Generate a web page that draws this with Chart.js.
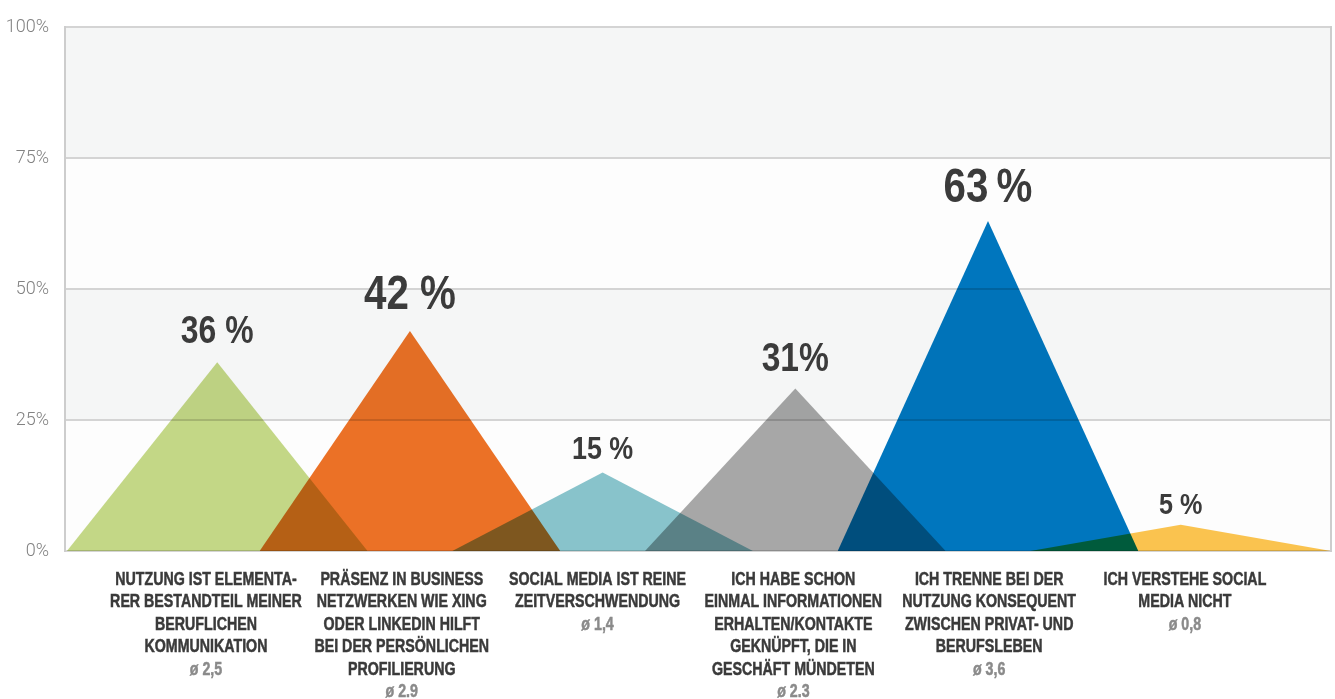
<!DOCTYPE html>
<html lang="de">
<head>
<meta charset="utf-8">
<title>Social Media im Beruf</title>
<script src="https://cdn.jsdelivr.net/npm/chart.js@4.4.1/dist/chart.umd.min.js"></script>
<style>
  html, body { margin: 0; padding: 0; background: #fff; }
  canvas { display: block; }
</style>
</head>
<body>
<canvas id="chartDreiecke" width="1335" height="699"></canvas>
<script>
// Daten
const kategorien = [
    ['NUTZUNG IST ELEMENTA-', 'RER BESTANDTEIL MEINER', 'BERUFLICHEN', 'KOMMUNIKATION'],
    ['PRÄSENZ IN BUSINESS', 'NETZWERKEN WIE XING', 'ODER LINKEDIN HILFT', 'BEI DER PERSÖNLICHEN', 'PROFILIERUNG'],
    ['SOCIAL MEDIA IST REINE', 'ZEITVERSCHWENDUNG'],
    ['ICH HABE SCHON', 'EINMAL INFORMATIONEN', 'ERHALTEN/KONTAKTE', 'GEKNÜPFT, DIE IN', 'GESCHÄFT MÜNDETEN'],
    ['ICH TRENNE BEI DER', 'NUTZUNG KONSEQUENT', 'ZWISCHEN PRIVAT- UND', 'BERUFSLEBEN'],
    ['ICH VERSTEHE SOCIAL', 'MEDIA NICHT']
];
const durchschnitt = ['ø 2,5', 'ø 2.9', 'ø 1,4', 'ø 2.3', 'ø 3,6', 'ø 0,8'];
const anteile = [36, 42, 15, 31, 63, 5];
const anteilTexte = ['36 %', '42 %', '15 %', '31%', '63\u2009%', '5 %'];
const yTicks = [0, 25, 50, 75, 100];

// Gestaltung
const farben = ['#c5d987', '#ed7226', '#89c5cd', '#a8a8a8', '#0077c0', '#fcc54f'];
const wertSchrift = [38, 48, 32, 40, 48, 30];   // Schriftgröße der Prozentwerte
const wertAbstand = [19, 22, 13, 18, 19, 11];   // Abstand Grundlinie zur Spitze
const SCHRIFT = "'Liberation Sans', Arial, sans-serif";
const STAUCHUNG = 0.79;      // Helvetica Condensed nachahmen
const HALBE_BREITE = 0.78;   // halbe Dreiecksbasis in Kategorie-Einheiten
const ZEILE = 22.5;          // Zeilenhöhe der Achsenbeschriftung

// Text horizontal gestaucht zeichnen, etwas kräftiger
function schmalerText(ctx, text, x, y, faktor, kontur) {
    ctx.save();
    ctx.translate(x, y);
    ctx.scale(faktor, 1);
    if (kontur) {
        ctx.lineWidth = kontur;
        ctx.strokeStyle = ctx.fillStyle;
        ctx.strokeText(text, 0, 0);
    }
    ctx.fillText(text, 0, 0);
    ctx.restore();
}

// Hintergrundstreifen und rechter Rahmen
const hintergrund = {
    id: 'hintergrund',
    beforeDraw(chart) {
        const { ctx, chartArea, scales } = chart;
        ctx.save();
        for (let k = 0; k < yTicks.length - 1; k++) {
            const yOben = scales.y.getPixelForValue(yTicks[k + 1]);
            const yUnten = scales.y.getPixelForValue(yTicks[k]);
            ctx.fillStyle = k % 2 ? '#f5f6f6' : '#fdfdfd';
            ctx.fillRect(chartArea.left, yOben, chartArea.right - chartArea.left, yUnten - yOben);
        }
        ctx.restore();
    },
    afterDraw(chart) {
        const { ctx, chartArea } = chart;
        ctx.save();
        ctx.strokeStyle = '#cdcdcd';
        ctx.lineWidth = 2;
        ctx.beginPath();
        ctx.moveTo(chartArea.right, chartArea.top - 1);
        ctx.lineTo(chartArea.right, chartArea.bottom + 1);
        ctx.stroke();
        ctx.restore();
    }
};

// Überlappungen wie im Original multiplizieren, danach Prozentwerte
const mischen = {
    id: 'mischen',
    beforeDatasetsDraw(chart) {
        chart.ctx.save();
        chart.ctx.globalCompositeOperation = 'multiply';
    },
    afterDatasetsDraw(chart) {
        chart.ctx.restore();
        const { ctx, scales } = chart;
        ctx.save();
        ctx.fillStyle = '#3b3b3b';
        ctx.textAlign = 'center';
        ctx.textBaseline = 'alphabetic';
        anteile.forEach((wert, i) => {
            ctx.font = `bold ${wertSchrift[i]}px ${SCHRIFT}`;
            const x = scales.x.getPixelForValue(i);
            const y = scales.y.getPixelForValue(wert);
            schmalerText(ctx, anteilTexte[i], x, y - wertAbstand[i], 0.84);
        });
        ctx.restore();
    }
};

// Kategorien und Durchschnittswerte unter der Grafik
const beschriftung = {
    id: 'beschriftung',
    afterDraw(chart) {
        const { ctx, scales } = chart;
        const achse = scales.x2;
        ctx.save();
        ctx.font = `bold 18px ${SCHRIFT}`;
        ctx.textAlign = 'center';
        ctx.textBaseline = 'middle';
        kategorien.forEach((zeilen, i) => {
            const x = achse.getPixelForValue(i);
            const y0 = achse.top + 29;
            ctx.fillStyle = '#3a3a3a';
            zeilen.forEach((zeile, z) => schmalerText(ctx, zeile, x, y0 + z * ZEILE, STAUCHUNG, 0.5));
            ctx.fillStyle = '#8a8a8a';
            schmalerText(ctx, durchschnitt[i], x, y0 + zeilen.length * ZEILE, STAUCHUNG, 0.5);
        });
        ctx.restore();
    }
};

new Chart(document.getElementById('chartDreiecke'), {
    type: 'line',
    data: {
        datasets: anteile.map((wert, i) => ({
            label: kategorien[i].join(' '),
            data: [
                { x: i - HALBE_BREITE, y: 0 },
                { x: i, y: wert },
                { x: i + HALBE_BREITE, y: 0 }
            ],
            backgroundColor: farben[i],
            borderWidth: 0,
            pointRadius: 0,
            tension: 0,
            fill: 'origin'
        }))
    },
    options: {
        responsive: false,
        animation: false,
        layout: { padding: { top: 27, right: 4, left: 0, bottom: 0 } },
        plugins: {
            legend: { display: false },
            tooltip: { enabled: false }
        },
        scales: {
            x: { type: 'linear', min: -0.79, max: 5.78, display: false },
            x2: {
                type: 'linear',
                position: 'bottom',
                min: -0.72,
                max: 5.746,
                afterBuildTicks: s => { s.ticks = kategorien.map((_, i) => ({ value: i })); },
                afterFit: s => { s.height = 148; },
                grid: { display: false, drawTicks: false },
                border: { display: false },
                ticks: { display: false }
            },
            y: {
                min: 0,
                max: 100,
                afterBuildTicks: s => { s.ticks = yTicks.map(v => ({ value: v })); },
                afterFit: s => { s.width = 65; },
                grid: { color: '#d4d4d4', lineWidth: 2, drawTicks: false },
                border: { color: '#cdcdcd', width: 2 },
                ticks: {
                    callback: v => v + '%',
                    color: '#828282',
                    font: { family: 'Roboto', size: 18, weight: '300' },
                    padding: 16
                }
            }
        }
    },
    plugins: [hintergrund, mischen, beschriftung]
});
</script>
</body>
</html>
